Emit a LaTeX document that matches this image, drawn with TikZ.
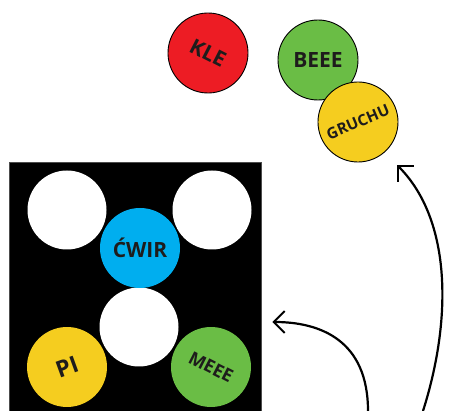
\documentclass[tikz,border=0pt]{standalone}
\usepackage{fontspec}
\setmainfont{Open Sans}
\usetikzlibrary{arrows.meta,calc}
\definecolor{klered}{RGB}{237, 28, 36}
\definecolor{beeegreen}{RGB}{106, 189, 69}
\definecolor{gruchuyellow}{RGB}{245, 205, 31}
\definecolor{cwirblue}{RGB}{0, 174, 239}
\definecolor{labelink}{RGB}{30, 28, 28}
\begin{document}
\begin{tikzpicture}[x=1pt, y=-1pt,
		ball/.style={circle, draw=black, line width=0.9pt, minimum size=80pt, inner sep=0pt, text=labelink},
		hole/.style={circle, fill=white, minimum size=79pt, inner sep=0pt},
		big/.style={font=\fontsize{21}{21}\selectfont\bfseries},
		small/.style={font=\fontsize{15.5}{15.5}\selectfont\bfseries},
		arr/.style={-{Straight Barb[length=11pt, width=22pt, line width=2pt]}, line width=2.2pt}]
			\useasboundingbox (0, 0) rectangle (459, 411);
			
			% loose balls on top
			\node[ball, fill=klered, big, rotate=-27] (kle) at (208, 53) {KLE};
			\node[ball, fill=beeegreen, big] (beee) at (318, 60) {BEEE};
			\node[ball, fill=gruchuyellow, small, rotate=23] (gruchu) at (358, 122) {GRUCHU};
			
			% the board
			\node[fill=black, draw=black!70, line width=0.6pt, minimum width=252pt, minimum height=249pt, inner sep=0pt] (board) at (135, 286.5) {};
			\node[hole] (holeA) at (67, 210) {};
			\node[hole] (holeB) at (212, 210) {};
			\node[hole] (holeC) at (139, 327) {};
			\node[ball, draw=none, fill=cwirblue, big] (cwir) at (140, 248) {ĆWIR};
			\node[ball, draw=none, fill=gruchuyellow, font=\fontsize{23}{23}\selectfont\bfseries, rotate=20] (pi) at (67, 367) {PI};
			\node[ball, draw=none, fill=beeegreen, font=\fontsize{18}{18}\selectfont\bfseries, rotate=-27] (meee) at (211, 367) {MEEE};
			
			% arrows coming from below
			\coordinate (startA) at (368, 411);
			\coordinate (startB) at (423, 411);
			\draw[arr] (startA) .. controls (368, 340) and (320, 322) .. ($(board.east)+(11, 35.5)$);
			\draw[arr] (startB) .. controls (452, 320) and (452, 220) .. ($(gruchu.center)+(39, 43)$);
		\end{tikzpicture}
\end{document}
